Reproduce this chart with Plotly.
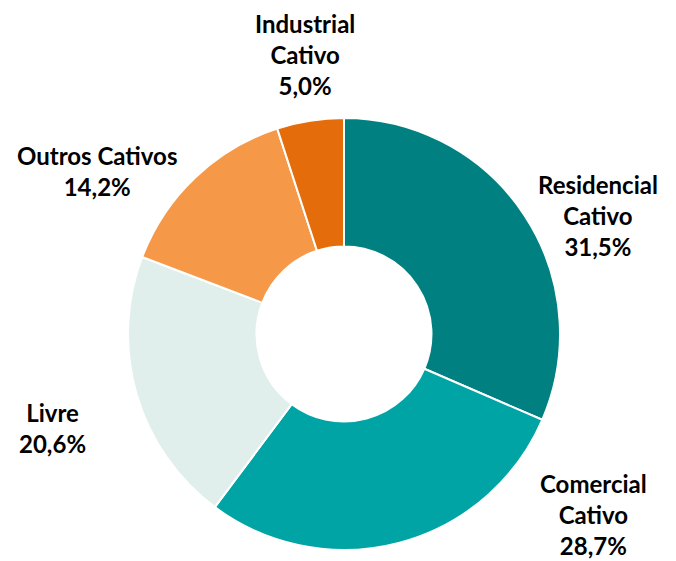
import plotly.graph_objects as go

# Market share by consumer class (%)
categories = ["Residencial Cativo", "Comercial Cativo", "Livre", "Outros Cativos", "Industrial Cativo"]
shares = [31.5, 28.7, 20.6, 14.2, 5.0]
label_lines = [
    ["Residencial", "Cativo"],
    ["Comercial", "Cativo"],
    ["Livre"],
    ["Outros Cativos"],
    ["Industrial", "Cativo"],
]
colors = ["#008080", "#00A4A4", "#E1EFEC", "#F59847", "#E46C0A"]

# Label anchor points in pixels (x, y from top) for each category
label_pos = [(598, 215), (593, 514), (52, 428), (97, 171), (305, 55)]

W, H = 676, 561
cx, cy, r = 344, 334, 216

fig = go.Figure(
    go.Pie(
        labels=categories,
        values=shares,
        sort=False,
        direction="clockwise",
        rotation=0,
        hole=0.405,
        marker=dict(colors=colors, line=dict(color="white", width=2)),
        textinfo="none",
        hoverinfo="label+percent",
        domain=dict(x=[(cx - r) / W, (cx + r) / W], y=[(H - cy - r) / H, (H - cy + r) / H]),
        showlegend=False,
    )
)

for lines, val, (px, py) in zip(label_lines, shares, label_pos):
    text = "<br>".join(lines + [f"{val:.1f}".replace(".", ",") + "%"])
    fig.add_annotation(
        x=px / W, y=1 - py / H, xref="paper", yref="paper",
        text=text, showarrow=False, xanchor="center", yanchor="middle",
        align="center",
        font=dict(family="Lato", size=24, color="black", weight="bold"),
    )

fig.update_layout(
    width=W, height=H,
    margin=dict(l=0, r=0, t=0, b=0),
    paper_bgcolor="white", plot_bgcolor="white",
)

fig.write_html("out.html")
